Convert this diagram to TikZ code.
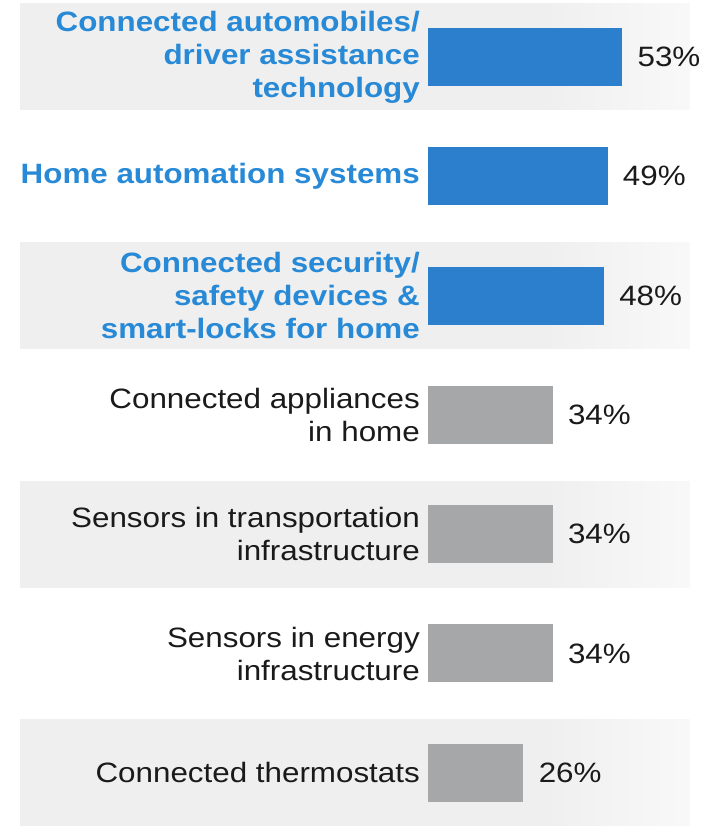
\documentclass[tikz,border=0pt]{standalone}
\usepackage{fontspec}
\setmainfont{Liberation Sans}[FakeStretch=1.12]
\usepackage{tikz}
\usetikzlibrary{positioning}
\definecolor{barblue}{RGB}{43,127,204}
\definecolor{textblue}{RGB}{40,138,214}
\definecolor{bargray}{RGB}{166,167,169}
\definecolor{bandgray}{RGB}{239,239,239}
\definecolor{textblack}{RGB}{26,26,26}
\pgfdeclarehorizontalshading{bandfade}{100bp}{color(0bp)=(bandgray); color(64bp)=(bandgray); color(75bp)=(bandgray!40!white); color(100bp)=(bandgray!40!white)}

\begin{document}
\begin{tikzpicture}[x=1pt, y=1pt,
    lbl/.style={anchor=east, align=right, inner sep=0pt, font=\fontsize{28}{33}\selectfont, text=textblack},
    hilbl/.style={lbl, font=\fontsize{28}{33}\selectfont\bfseries, text=textblue},
    bar/.style={anchor=west, inner sep=0pt, minimum height=58, fill=bargray},
    hibar/.style={bar, fill=barblue},
    pct/.style={inner sep=0pt, font=\fontsize{28}{33}\selectfont, text=textblack}]
                \useasboundingbox (0,0) rectangle (718,826);

                % shaded bands behind rows 1, 3, 5, 7
                \foreach \yc in {769, 530.4, 291.8, 53.2} {
                    \shade[shading=bandfade] (20,\yc-53) rectangle (690,\yc+53);
                }

                % highlighted rows
                \node[hilbl] (t1) at (420,769) {Connected automobiles/\\driver assistance\\technology};
                \node[hibar, minimum width=53*3.66] (b1) at (428,769) {};
                \node[pct, right=15 of b1] (p1) {53\%};

                \node[hilbl] (t2) at (420,649.7) {Home automation systems};
                \node[hibar, minimum width=49*3.66] (b2) at (428,649.7) {};
                \node[pct, right=15 of b2] (p2) {49\%};

                \node[hilbl] (t3) at (420,530.4) {Connected security/\\safety devices \&\\smart-locks for home};
                \node[hibar, minimum width=48*3.66] (b3) at (428,530.4) {};
                \node[pct, right=15 of b3] (p3) {48\%};

                % other rows
                \node[lbl] (t4) at (420,411.1) {Connected appliances\\in home};
                \node[bar, minimum width=34*3.66] (b4) at (428,411.1) {};
                \node[pct, right=15 of b4] (p4) {34\%};

                \node[lbl] (t5) at (420,291.8) {Sensors in transportation\\infrastructure};
                \node[bar, minimum width=34*3.66] (b5) at (428,291.8) {};
                \node[pct, right=15 of b5] (p5) {34\%};

                \node[lbl] (t6) at (420,172.5) {Sensors in energy\\infrastructure};
                \node[bar, minimum width=34*3.66] (b6) at (428,172.5) {};
                \node[pct, right=15 of b6] (p6) {34\%};

                \node[lbl] (t7) at (420,53.2) {Connected thermostats};
                \node[bar, minimum width=26*3.66] (b7) at (428,53.2) {};
                \node[pct, right=15 of b7] (p7) {26\%};
            \end{tikzpicture}
\end{document}
